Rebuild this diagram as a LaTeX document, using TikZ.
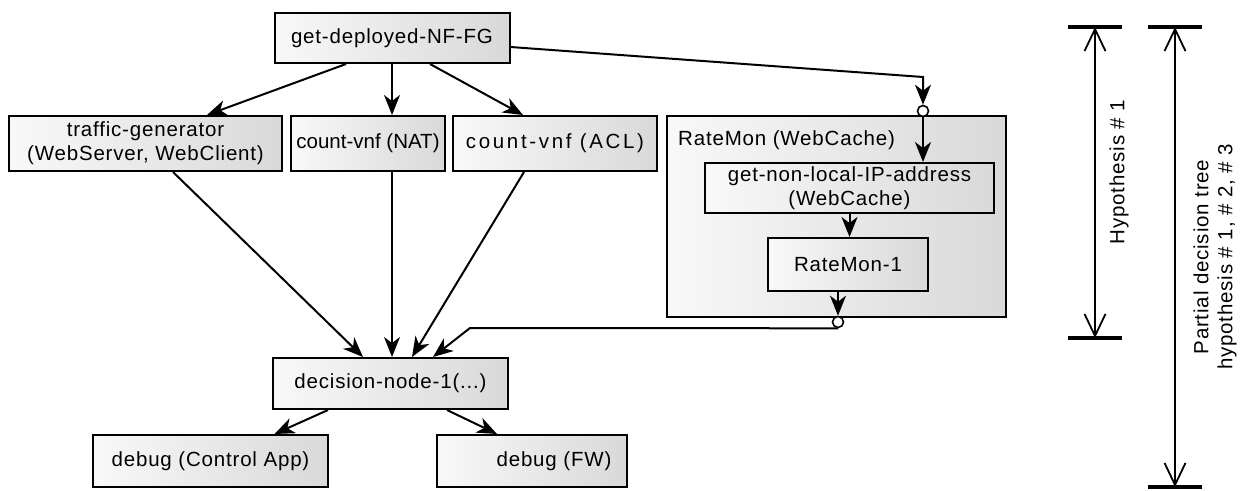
\documentclass[tikz,border=0pt]{standalone}
\usepackage{fontspec}
\setmainfont[LetterSpace=4]{Liberation Sans}
\usetikzlibrary{arrows.meta,calc}
\begin{document}
\begin{tikzpicture}[x=1pt,y=-1pt,
  box/.style={draw, line width=2pt, left color=gray!5, right color=gray!30,
    inner sep=0pt, align=center, font=\fontsize{20.5}{24}\selectfont, text=black},
  conn/.style={line width=2pt, -{Stealth[length=20pt,width=16pt,inset=6pt]}},
  dot/.style={circle, draw, fill=white, line width=1.6pt, minimum size=11pt, inner sep=0pt},
  bar/.style={line width=3.6pt},
  span/.style={line width=1.6pt,
    {Straight Barb[length=22pt,width=21pt,line width=1.8pt]}-{Straight Barb[length=22pt,width=21pt,line width=1.8pt]}},
  txt/.style={font=\fontsize{20.5}{24}\selectfont, align=center, inner sep=0pt},
  tight/.style={font=\fontsize{20.5}{24}\selectfont\addfontfeatures{LetterSpace=0}},
  loose/.style={font=\fontsize{20.5}{24}\selectfont\addfontfeatures{LetterSpace=13}}
]
\useasboundingbox (0,0) rectangle (1244,490);

% main flow
\node[box, minimum width=235pt, minimum height=50pt] (top) at (392,38) {get-deployed-NF-FG};
\node[box, minimum width=273pt, minimum height=55pt] (tg) at (145.5,143.5) {traffic-generator\\(WebServer, WebClient)};
\node[box, tight, minimum width=154pt, minimum height=55pt] (nat) at (368,143.5) {count-vnf (NAT)};
\node[box, loose, minimum width=204pt, minimum height=55pt] (acl) at (555,143.5) {count-vnf (ACL)};

% RateMon group
\node[box, minimum width=339pt, minimum height=201pt] (rm) at (836.5,216.5) {};
\node[txt, anchor=west] (rmlabel) at (678,140) {RateMon (WebCache)};
\node[box, minimum width=289pt, minimum height=50pt] (gnl) at (849.5,188) {get-non-local-IP-address\\(WebCache)};
\node[box, minimum width=160pt, minimum height=53pt] (rm1) at (848,264.5) {RateMon-1};

\node[box, minimum width=235pt, minimum height=51pt] (dec) at (390.5,383.5) {decision-node-1(...)};
\node[box, minimum width=235pt, minimum height=52pt] (dca) at (210.5,461) {debug (Control App)};
\node[box, minimum width=190pt, minimum height=52pt] (dfw) at (532,461) {};
\node[txt] (dfwtext) at (554,461) {debug (FW)};

% junction markers
\node[dot] (c1) at (923,111) {};
\node[dot] (c2) at (838,322) {};
\coordinate (bend1) at (923,77);
\coordinate (bend2) at (470,328);

% connectors
\draw[conn] ([xshift=-46pt]top.south) -- ([xshift=61.5pt]tg.north);
\draw[conn] (top.south) -- (top.south |- nat.north);
\draw[conn] ([xshift=38pt]top.south) -- ([xshift=-32pt]acl.north);
\draw[conn] ([xshift=27.5pt]tg.south) -- ([xshift=-27.5pt]dec.north);
\draw[conn] (nat.south -| top.south) -- (dec.north -| top.south);
\draw[conn] ([xshift=-31pt]acl.south) -- ([xshift=21.5pt]dec.north);
\draw[conn] ($(top.east)+(0,9)$) -- (bend1) -- (c1.north);
\draw[conn] (c1.south) -- (c1.south |- gnl.north);
\draw[conn] (gnl.south) -- (rm1.north -| gnl.south);
\draw[conn] (rm1.south -| c2) -- (c2.north);
\draw[conn] (c2.south) -- (bend2) -- ([xshift=42.5pt]dec.north);
\draw[conn] ([xshift=-62.5pt]dec.south) -- ([xshift=64pt]dca.north);
\draw[conn] ([xshift=56.5pt]dec.south) -- ([xshift=-35pt]dfw.north);

% hypothesis spans
\coordinate (h1t) at (1095,27);
\coordinate (h1b) at (1095,338);
\coordinate (h2t) at (1175,27);
\coordinate (h2b) at (1175,487);
\draw[bar] ($(h1t)+(-27,0)$) -- ($(h1t)+(27,0)$);
\draw[bar] ($(h1b)+(-27,0)$) -- ($(h1b)+(27,0)$);
\draw[bar] ($(h2t)+(-27,0)$) -- ($(h2t)+(27,0)$);
\draw[bar] ($(h2b)+(-27,0)$) -- ($(h2b)+(27,0)$);
\draw[span] (h1t) -- (h1b);
\draw[span] (h2t) -- (h2b);
\node[txt, rotate=90] (hyp1) at (1119,172) {Hypothesis \# 1};
\node[txt, rotate=90] (hyp2) at (1215,257) {Partial decision tree\\hypothesis \# 1, \# 2, \# 3};
\end{tikzpicture}
\end{document}
